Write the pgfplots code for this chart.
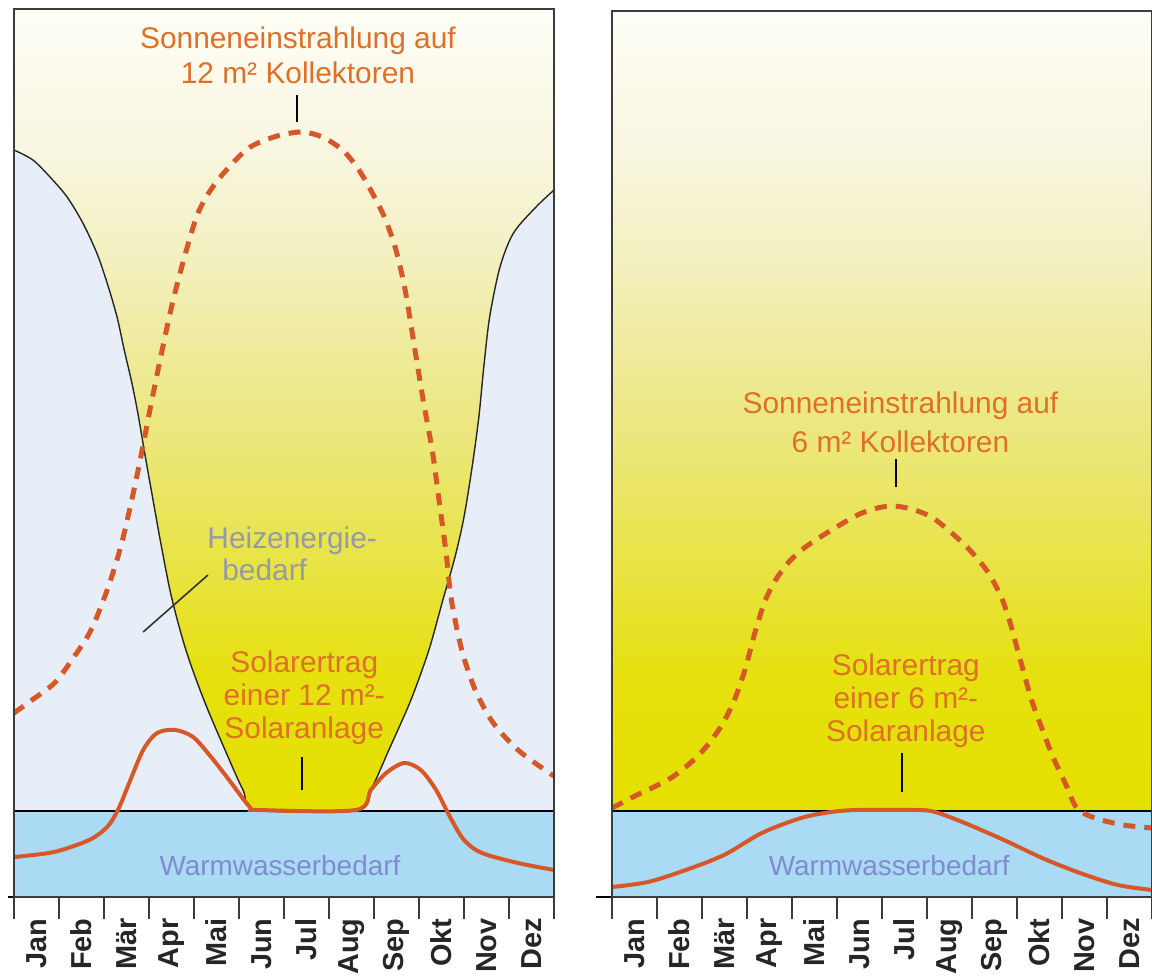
\documentclass[border=0pt]{standalone}
\usepackage{fontspec}
\setmainfont{Liberation Sans}
\usepackage{pgfplots}
\pgfplotsset{compat=1.18}
\definecolor{s0}{RGB}{229,224,0}
\definecolor{s1}{RGB}{230,224,15}
\definecolor{s2}{RGB}{232,227,62}
\definecolor{s3}{RGB}{235,230,110}
\definecolor{s4}{RGB}{238,234,150}
\definecolor{s5}{RGB}{243,240,192}
\definecolor{s6}{RGB}{248,246,224}
\definecolor{s7}{RGB}{254,254,246}
\definecolor{heat}{RGB}{232,238,248}
\definecolor{band}{RGB}{170,218,244}
\definecolor{curve}{RGB}{214,88,40}
\definecolor{otext}{RGB}{222,112,40}
\definecolor{wtext}{RGB}{128,140,205}
\definecolor{htext}{RGB}{150,153,172}
\definecolor{frame}{RGB}{60,60,60}
\pgfdeclareverticalshading{yelgrad}{100bp}{color(0bp)=(s0); color(31bp)=(s0); color(37.5bp)=(s1); color(43bp)=(s2); color(49bp)=(s3); color(55bp)=(s4); color(61bp)=(s5); color(67bp)=(s6); color(75bp)=(s7); color(100bp)=(s7)}
\newcommand{\lbl}{\fontsize{15}{17}\selectfont}
\newcommand{\wlbl}{\fontsize{14}{16}\selectfont}
\begin{document}
\begin{tikzpicture}
\useasboundingbox (-7bp,-41bp) rectangle (569bp,448.5bp);
\pgfplotsset{panel/.style={
  x=22.5bp, y=0.5bp, xmin=0, xmax=12, ymin=0,
  axis on top, clip=false,
  axis line style={draw=frame, line width=1bp},
  xtick={0.5,1.5,...,11.5},
  xticklabels={Jan,Feb,Mär,Apr,Mai,Jun,Jul,Aug,Sep,Okt,Nov,Dez},
  major tick length=0pt,
  minor xtick={0,1,...,12},
  minor tick length=11bp,
  tick align=outside,
  xtick pos=bottom,
  ytick=\empty,
  minor tick style={draw=frame, line width=0.9bp},
  xticklabel style={yshift=-10.5bp, rotate=90, anchor=east, inner sep=0pt, font=\bfseries\fontsize{14.5}{14.5}\selectfont, text=black!85},
}}
% ---------------- left panel ----------------
\begin{axis}[panel, ymax=888]
\addplot[draw=none, shade, shading=yelgrad] coordinates {(0,0)(12,0)(12,888)(0,888)} -- cycle;
\addplot[fill=heat, draw=none, smooth] coordinates {(0,747)(0.42,737)(0.8,720)(1.18,700)(1.53,674)(1.84,644)(2.07,614)(2.29,580)(2.45,547)(2.62,514)(2.76,482)(2.9,445)(3.07,402)(3.27,352)(3.5,300)(3.82,247)(4.22,197)(4.69,147)(5.09,107)(5.4,87)(7.6,87)(7.93,107)(8.33,147)(8.82,197)(9.22,247)(9.53,297)(9.8,340)(10.0,380)(10.18,430)(10.33,480)(10.44,530)(10.57,580)(10.8,630)(11.1,664)(11.6,690)(12,707)} \closedcycle;
\addplot[fill=band, draw=none] coordinates {(0,0)(12,0)(12,86)(0,86)} -- cycle;
\addplot[black, line width=0.9bp] coordinates {(0,86)(12,86)};
\addplot[black!85, line width=0.7bp, smooth] coordinates {(0,747)(0.42,737)(0.8,720)(1.18,700)(1.53,674)(1.84,644)(2.07,614)(2.29,580)(2.45,547)(2.62,514)(2.76,482)(2.9,445)(3.07,402)(3.27,352)(3.5,300)(3.82,247)(4.22,197)(4.69,147)(5.09,107)(5.4,87)(7.6,87)(7.93,107)(8.33,147)(8.82,197)(9.22,247)(9.53,297)(9.8,340)(10.0,380)(10.18,430)(10.33,480)(10.44,530)(10.57,580)(10.8,630)(11.1,664)(11.6,690)(12,707)};
\addplot[curve, line width=2.5bp, dash pattern=on 6bp off 4.5bp, smooth] coordinates {(0,184)(0.4,197)(0.9,214)(1.3,238)(1.7,266)(2.07,307)(2.4,355)(2.75,425)(3.1,505)(3.5,590)(3.85,650)(4.1,685)(4.4,709)(4.8,731)(5.25,750)(5.85,761)(6.4,765)(6.85,760)(7.3,747)(7.65,728)(7.95,705)(8.25,678)(8.5,645)(8.7,605)(8.9,550)(9.1,495)(9.3,445)(9.45,395)(9.6,345)(9.72,297)(9.95,247)(10.25,207)(10.65,174)(11.2,147)(11.8,127)(12,121)};
\addplot[curve, line width=2bp, smooth] coordinates {(0,40)(0.89,45)(1.67,57)(2.07,70)(2.31,87)(2.56,114)(2.87,147)(3.18,164)(3.58,167)(3.98,160)(4.38,140)(4.78,117)(5.24,90)(5.45,87)(7.6,87)(7.93,107)(8.27,124)(8.67,134)(9.04,127)(9.38,107)(9.69,80)(10.0,57)(10.4,44)(11.2,34)(12,27)};
\draw[black, line width=1bp] (axis cs:-0.14,0) -- (axis cs:0,0);
% annotations
\node[font=\lbl, text=otext, anchor=base] at (axis cs:6.31,849) {Sonneneinstrahlung auf};
\node[font=\lbl, text=otext, anchor=base] at (axis cs:6.31,814) {12 m² Kollektoren};
\draw[black, line width=0.8bp] (axis cs:6.29,802) -- (axis cs:6.29,775);
\node[font=\lbl, text=htext, anchor=base west, inner sep=0pt] at (axis cs:4.29,349) {Heizenergie-};
\node[font=\lbl, text=htext, anchor=base west, inner sep=0pt] at (axis cs:4.62,317) {bedarf};
\draw[black!80, line width=0.8bp] (axis cs:2.87,265) -- (axis cs:4.31,322);
\node[font=\lbl, text=otext, anchor=base] at (axis cs:6.45,225) {Solarertrag};
\node[font=\lbl, text=otext, anchor=base] at (axis cs:6.45,192) {einer 12 m²-};
\node[font=\lbl, text=otext, anchor=base] at (axis cs:6.45,159) {Solaranlage};
\draw[black, line width=0.8bp] (axis cs:6.4,140) -- (axis cs:6.4,107);
\node[font=\wlbl, text=wtext, anchor=base] at (axis cs:5.91,22) {Warmwasserbedarf};
\end{axis}
% ---------------- right panel ----------------
\begin{axis}[panel, ymax=886, at={(299bp,0)}, anchor=origin]
\addplot[draw=none, shade, shading=yelgrad] coordinates {(0,0)(12,0)(12,886)(0,886)} -- cycle;
\addplot[fill=band, draw=none] coordinates {(0,0)(12,0)(12,86)(0,86)} -- cycle;
\addplot[black, line width=0.9bp] coordinates {(0,86)(12,86)};
\addplot[curve, line width=2.5bp, dash pattern=on 6bp off 4.5bp, smooth] coordinates {(0,89)(0.51,101)(1.31,119)(1.93,142)(2.4,169)(2.71,196)(2.96,228)(3.18,265)(3.4,296)(3.65,318)(3.95,336)(4.3,350)(4.7,362)(5.1,373)(5.5,383)(5.9,389)(6.25,391)(6.65,388)(7.1,380)(7.55,364)(7.95,347)(8.35,325)(8.65,300)(8.85,274)(9.0,249)(9.16,223)(9.33,196)(9.55,169)(9.8,140)(10.08,113)(10.33,89)(10.73,79)(11.36,72)(12,69)};
\addplot[curve, line width=2bp, smooth] coordinates {(0,10)(0.8,15)(1.64,27)(2.49,42)(3.33,64)(4.2,79)(4.87,85)(5.47,87)(6.76,87)(7.18,85)(7.84,74)(8.71,57)(9.56,39)(10.4,24)(11.24,12)(12,7)};
\draw[black, line width=1bp] (axis cs:-0.36,0) -- (axis cs:0,0);
\node[font=\lbl, text=otext, anchor=base] at (axis cs:6.41,484) {Sonneneinstrahlung auf};
\node[font=\lbl, text=otext, anchor=base] at (axis cs:6.41,445) {6 m² Kollektoren};
\draw[black, line width=0.8bp] (axis cs:6.31,438) -- (axis cs:6.31,410);
\node[font=\lbl, text=otext, anchor=base] at (axis cs:6.53,222) {Solarertrag};
\node[font=\lbl, text=otext, anchor=base] at (axis cs:6.53,189) {einer 6 m²-};
\node[font=\lbl, text=otext, anchor=base] at (axis cs:6.53,156) {Solaranlage};
\draw[black, line width=0.8bp] (axis cs:6.44,144) -- (axis cs:6.44,105);
\node[font=\wlbl, text=wtext, anchor=base] at (axis cs:6.16,22) {Warmwasserbedarf};
\end{axis}
\end{tikzpicture}
\end{document}
